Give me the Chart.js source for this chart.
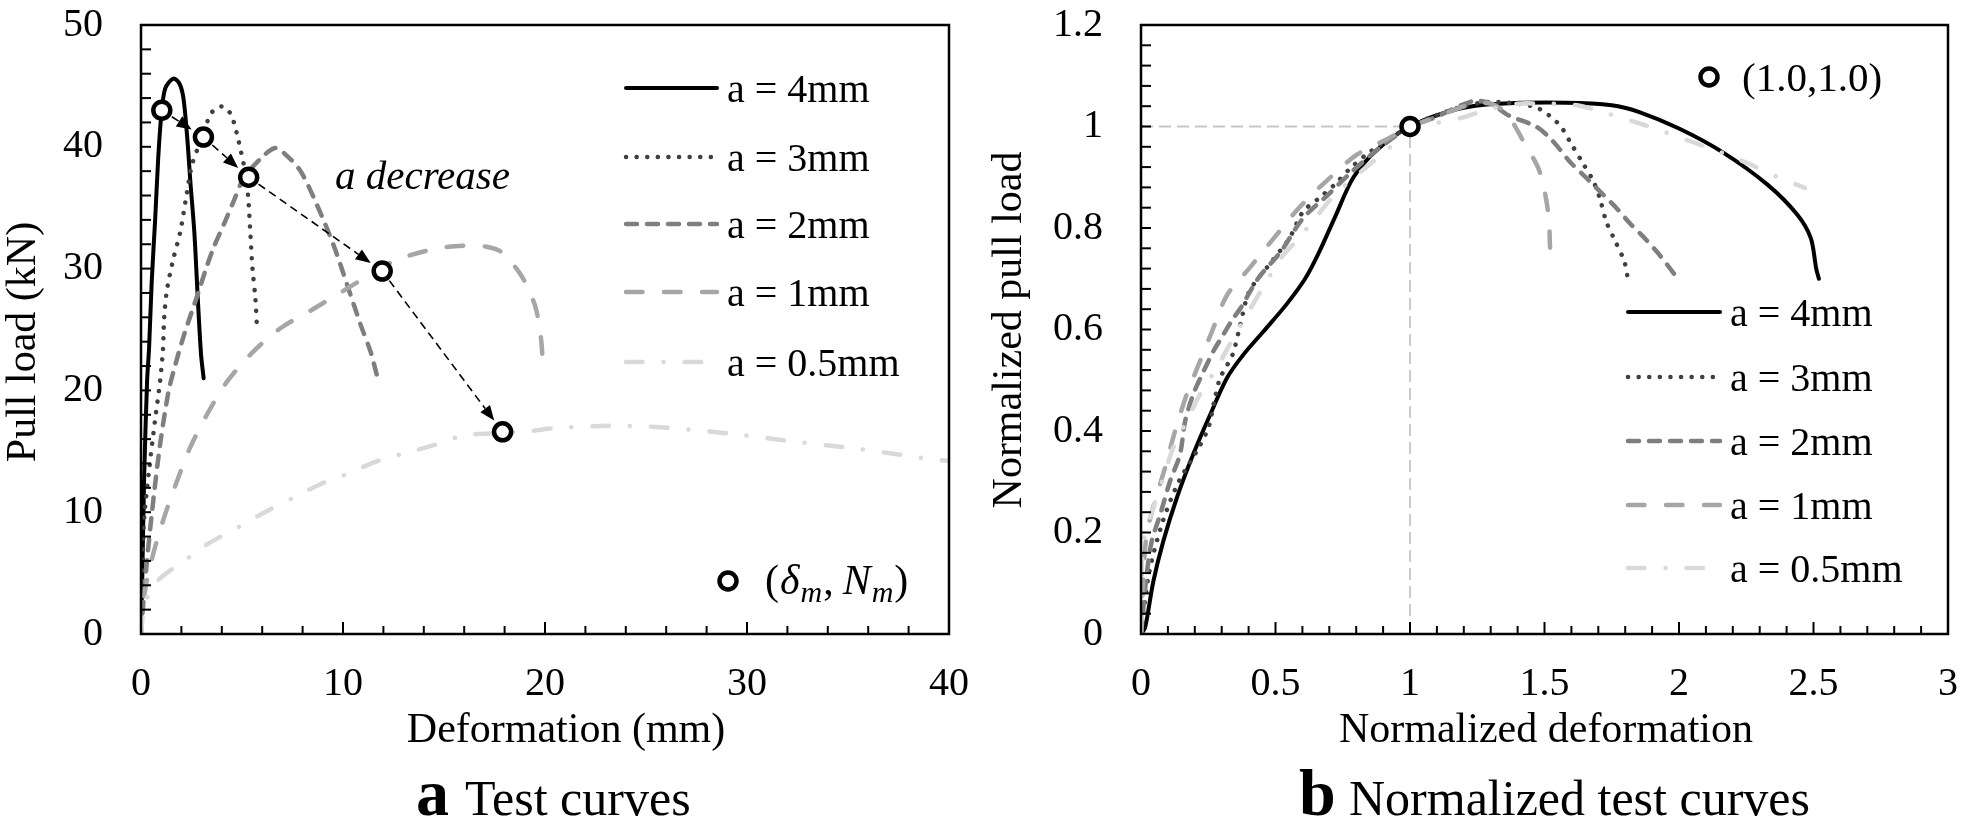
<!DOCTYPE html>
<html><head><meta charset="utf-8">
<script src="https://cdn.jsdelivr.net/npm/chart.js@4.4.1/dist/chart.umd.min.js"></script>
<style>
html,body{margin:0;padding:0;background:#fff;width:1961px;height:832px;overflow:hidden}
#wrapA{position:absolute;left:0;top:0;width:980px;height:832px}
#wrapB{position:absolute;left:980px;top:0;width:981px;height:832px}
</style></head><body>
<div id="wrapA"><canvas id="cA" width="980" height="832"></canvas></div>
<div id="wrapB"><canvas id="cB" width="981" height="832"></canvas></div>
<script>
// ---------- DATA ----------
const seriesLabels = ['a = 4mm', 'a = 3mm', 'a = 2mm', 'a = 1mm', 'a = 0.5mm'];
const xTicksA = ['0', '10', '20', '30', '40'];
const yTicksA = ['0', '10', '20', '30', '40', '50'];
const xTicksB = ['0', '0.5', '1', '1.5', '2', '2.5', '3'];
const yTicksB = ['0', '0.2', '0.4', '0.6', '0.8', '1', '1.2'];

// (a) Test curves: [deformation mm, pull load kN]
const testA4 = [[0,0],[0.06,4.3],[0.15,12.5],[0.3,20.7],[0.4,23.5],[0.53,28.9],[0.7,34],[0.85,39],[1.0,42.5],[1.2,44.8],[1.6,45.6],[1.9,45.2],[2.1,44],[2.3,40.5],[2.45,37],[2.64,33],[2.81,27.6],[2.97,23],[3.1,21]];
const testA3 = [[0,0],[0.08,5],[0.15,9.3],[0.41,13.6],[0.69,17.5],[0.94,20.7],[1.08,23.2],[1.15,26],[1.28,28.2],[1.6,30.8],[1.94,33],[2.25,36],[2.52,38.5],[2.93,40.4],[3.42,42.6],[3.75,43.2],[4.09,43.3],[4.4,42.8],[4.6,42],[4.8,40.7],[4.95,39.6],[5.15,38],[5.3,36],[5.41,33],[5.52,30],[5.66,27.6],[5.74,25.2]];
const testA2 = [[0,0],[0.2,4.3],[0.53,9.8],[0.94,15.5],[1.36,19.9],[1.6,21.5],[2.1,24.4],[2.85,28.1],[3.18,29.8],[3.59,31.7],[4.17,33.9],[4.58,35.5],[5.08,37.4],[5.9,39],[6.65,39.9],[7.2,39.3],[7.9,38],[8.72,35.2],[9.54,31.9],[10.2,28.7],[10.87,25.4],[11.36,23.2],[11.7,21.1]];
const testA1 = [[0,0],[0.03,1.6],[0.28,4.3],[0.69,7.1],[1.19,9.8],[1.77,12.5],[2.43,15.3],[3.26,18],[4.25,20.7],[5.57,23.2],[6.9,25.1],[8.55,26.7],[10.54,28.7],[12.5,30.6],[14.5,31.6],[16.16,31.9],[17.1,31.8],[17.8,31.4],[18.8,29.5],[19.5,27],[19.8,24.3],[19.9,21.9]];
const testA05 = [[0,0],[0.2,2.5],[0.78,4.3],[2.35,6.25],[3.26,7.35],[4.91,8.85],[6.24,10.1],[7.56,11.2],[8.88,12.3],[10.29,13.2],[11.7,14.2],[13.19,14.9],[14.5,15.5],[16.0,16.3],[17.8,16.5],[18.97,16.6],[20.5,16.9],[23.4,17.1],[26.3,16.9],[29.45,16.4],[32.3,15.8],[35.5,15.2],[38.5,14.5],[40,14.2]];
const peakPointsA = [[1.03,43.0],[3.09,40.8],[5.33,37.5],[11.94,29.8],[17.9,16.6]];

// (b) Normalized test curves: [normalized deformation, normalized pull load]
const normB4 = [[0,0],[0.015,0.012],[0.046,0.104],[0.083,0.183],[0.133,0.268],[0.194,0.354],[0.257,0.432],[0.319,0.504],[0.38,0.55],[0.455,0.596],[0.54,0.649],[0.61,0.70],[0.66,0.75],[0.72,0.82],[0.79,0.90],[0.88,0.955],[1.0,1.0],[1.18,1.035],[1.33,1.045],[1.58,1.047],[1.75,1.042],[1.85,1.029],[2.0,0.996],[2.16,0.95],[2.33,0.885],[2.44,0.826],[2.49,0.78],[2.51,0.72],[2.52,0.70]];
const normB3 = [[0,0],[0.03,0.12],[0.08,0.22],[0.14,0.3],[0.207,0.36],[0.25,0.406],[0.275,0.465],[0.294,0.504],[0.34,0.55],[0.365,0.60],[0.403,0.675],[0.486,0.734],[0.552,0.78],[0.602,0.832],[0.66,0.858],[0.719,0.885],[0.777,0.917],[0.851,0.95],[1.0,1.0],[1.167,1.035],[1.283,1.048],[1.40,1.045],[1.48,1.035],[1.556,1.003],[1.598,0.967],[1.64,0.93],[1.68,0.894],[1.706,0.858],[1.73,0.812],[1.764,0.773],[1.797,0.734],[1.81,0.70]];
const normB2 = [[0,0],[0.009,0.052],[0.021,0.117],[0.04,0.183],[0.071,0.235],[0.108,0.301],[0.145,0.354],[0.164,0.419],[0.194,0.472],[0.232,0.517],[0.269,0.557],[0.306,0.59],[0.343,0.622],[0.37,0.642],[0.436,0.701],[0.519,0.753],[0.602,0.819],[0.694,0.865],[0.784,0.911],[0.885,0.957],[1.0,1.0],[1.084,1.016],[1.233,1.05],[1.3,1.045],[1.366,1.022],[1.471,0.999],[1.533,0.97],[1.595,0.93],[1.657,0.898],[1.706,0.872],[1.768,0.839],[1.818,0.809],[1.867,0.783],[1.923,0.75],[1.99,0.704]];
const normB1 = [[0,0],[0.002,0.04],[0.009,0.117],[0.021,0.196],[0.052,0.262],[0.089,0.327],[0.126,0.399],[0.17,0.472],[0.219,0.537],[0.269,0.603],[0.32,0.668],[0.403,0.721],[0.494,0.78],[0.586,0.839],[0.686,0.891],[0.801,0.944],[0.918,0.976],[1.0,1.0],[1.08,1.015],[1.216,1.042],[1.3,1.045],[1.36,1.025],[1.416,0.976],[1.482,0.911],[1.515,0.826],[1.52,0.77],[1.523,0.734]];
const normB05 = [[0,0],[0.004,0.144],[0.015,0.196],[0.046,0.249],[0.083,0.308],[0.12,0.367],[0.17,0.419],[0.219,0.472],[0.281,0.524],[0.343,0.583],[0.45,0.68],[0.52,0.74],[0.586,0.78],[0.652,0.822],[0.719,0.865],[0.818,0.911],[0.934,0.963],[1.0,1.0],[1.084,1.006],[1.183,1.016],[1.3,1.035],[1.4,1.045],[1.483,1.045],[1.62,1.042],[1.731,1.026],[1.836,1.009],[1.942,0.99],[2.047,0.97],[2.152,0.95],[2.258,0.927],[2.363,0.901],[2.468,0.879]];
const normPointB = [[1, 1]];
const refLineH = [[0, 1], [1, 1]];
const refLineV = [[1, 0], [1, 1]];

// ---------- STYLE ----------
const FAM = '"Liberation Serif", "Times New Roman", serif';
const seriesColors = ['#000000', '#404040', '#7f7f7f', '#a6a6a6', '#d9d9d9'];
const seriesWidths = [4, 4.5, 4.5, 4.5, 4.5];
const seriesDashes = [[], [0.1, 10.5], [11, 10], [16.5, 21.5], [16.5, 21, 0.1, 21]];

Chart.defaults.font.family = FAM;
Chart.defaults.color = '#000';

const toXY = arr => arr.map(p => ({x: p[0], y: p[1]}));

function curveSets(curves) {
  return curves.map((c, i) => ({
    label: seriesLabels[i], data: toXY(c),
    borderColor: seriesColors[i], borderWidth: seriesWidths[i], borderDash: seriesDashes[i],
    borderCapStyle: 'round', borderJoinStyle: 'round', tension: 0.3,
    pointRadius: 0, fill: false, order: 5 - i
  }));
}
function markerSet(pts) {
  return { label: 'marker', data: toXY(pts), showLine: false, pointRadius: 8.5, pointBorderWidth: 4.5,
    pointBackgroundColor: '#fff', pointBorderColor: '#000', borderColor: '#000', order: 0, clip: false };
}
function refSet(pts) {
  return { label: 'ref', data: toXY(pts), borderColor: '#c6c6c6', borderWidth: 1.8, borderDash: [12, 6],
    pointRadius: 0, tension: 0, fill: false, order: 10 };
}

function drawLegend(ctx, x0, x1, xt, ys) {
  ctx.save();
  ctx.font = '40px ' + FAM; ctx.fillStyle = '#000'; ctx.textBaseline = 'alphabetic'; ctx.textAlign = 'left';
  for (let i = 0; i < seriesLabels.length; i++) {
    ctx.strokeStyle = seriesColors[i]; ctx.lineWidth = seriesWidths[i]; ctx.lineCap = 'round';
    ctx.setLineDash(seriesDashes[i]);
    ctx.beginPath(); ctx.moveTo(x0, ys[i]); ctx.lineTo(x1, ys[i]); ctx.stroke();
    ctx.setLineDash([]);
    ctx.fillText(seriesLabels[i], xt, ys[i] + 13.5);
  }
  ctx.restore();
}
function drawRing(ctx, x, y) {
  ctx.save(); ctx.beginPath(); ctx.arc(x, y, 8.5, 0, Math.PI * 2);
  ctx.fillStyle = '#fff'; ctx.fill(); ctx.lineWidth = 4.5; ctx.strokeStyle = '#000'; ctx.stroke(); ctx.restore();
}
function drawRotated(ctx, text, cx, cy, font) {
  ctx.save(); ctx.translate(cx, cy); ctx.rotate(-Math.PI / 2);
  ctx.font = font; ctx.textAlign = 'center'; ctx.textBaseline = 'middle'; ctx.fillStyle = '#000';
  ctx.fillText(text, 0, 0); ctx.restore();
}
function drawCaption(ctx, letter, text, x, xt, base) {
  ctx.save(); ctx.fillStyle = '#000'; ctx.textBaseline = 'alphabetic'; ctx.textAlign = 'left';
  ctx.font = 'bold 66px ' + FAM; ctx.fillText(letter, x, base);
  ctx.font = '50px ' + FAM; ctx.fillText(text, xt, base);
  ctx.restore();
}

function makeDecor(spec) {
  return {
    id: 'decor',
    afterDatasetsDraw(chart) {
      const ctx = chart.ctx, a = chart.chartArea, xs = chart.scales.x, ys = chart.scales.y;
      ctx.save();
      if (spec.arrows) {
        const pts = spec.arrows.map(p => [xs.getPixelForValue(p[0]), ys.getPixelForValue(p[1])]);
        ctx.strokeStyle = '#000'; ctx.fillStyle = '#000'; ctx.lineWidth = 1.6;
        for (let i = 0; i < pts.length - 1; i++) {
          const [x0, y0] = pts[i], [x1, y1] = pts[i + 1];
          const dx = x1 - x0, dy = y1 - y0, L = Math.hypot(dx, dy), ux = dx / L, uy = dy / L;
          const sx = x0 + ux * 12, sy = y0 + uy * 12, tx = x1 - ux * 14, ty = y1 - uy * 14;
          const bx = tx - ux * 15, by = ty - uy * 15, hw = 6;
          ctx.setLineDash([8, 5]); ctx.beginPath(); ctx.moveTo(sx, sy); ctx.lineTo(bx, by); ctx.stroke();
          ctx.setLineDash([]); ctx.beginPath(); ctx.moveTo(tx, ty);
          ctx.lineTo(bx - uy * hw, by + ux * hw); ctx.lineTo(bx + uy * hw, by - ux * hw); ctx.closePath(); ctx.fill();
        }
      }
      ctx.strokeStyle = '#000'; ctx.lineWidth = 2; ctx.setLineDash([]);
      const nx = Math.round((xs.max - xs.min) / spec.xMinor);
      for (let k = 0; k <= nx; k++) {
        const px = xs.getPixelForValue(xs.min + k * spec.xMinor);
        const len = (k % 5 === 0) ? 12 : 8;
        ctx.beginPath(); ctx.moveTo(px, a.bottom); ctx.lineTo(px, a.bottom - len); ctx.stroke();
      }
      const ny = Math.round((ys.max - ys.min) / spec.yMinor);
      for (let k = 0; k <= ny; k++) {
        const py = ys.getPixelForValue(ys.min + k * spec.yMinor);
        ctx.beginPath(); ctx.moveTo(a.left, py); ctx.lineTo(a.left + 10, py); ctx.stroke();
      }
      ctx.lineWidth = 2.5;
      ctx.strokeRect(a.left, a.top, a.right - a.left, a.bottom - a.top);
      ctx.restore();
    },
    afterDraw(chart) {
      spec.extra(chart.ctx, chart);
    }
  };
}

const hiddenGrid = tl => ({ display: true, drawOnChartArea: false, drawTicks: true, tickLength: tl,
  color: 'rgba(0,0,0,0)', lineWidth: 0 });

function makeChart(id, datasets, xr, yr, xLabels, yLabels, yWidth, padRight, decor) {
  return new Chart(document.getElementById(id), {
    type: 'line',
    data: { datasets },
    options: {
      responsive: false, animation: false, events: [],
      layout: { padding: { left: 0, top: 23, right: padRight, bottom: 98 } },
      plugins: { legend: { display: false }, tooltip: { enabled: false } },
      scales: {
        x: { type: 'linear', min: xr[0], max: xr[1],
          ticks: { stepSize: xr[2], autoSkip: false, maxRotation: 0, padding: 1,
            font: { size: 40, family: FAM }, color: '#000', callback: (v, i) => xLabels[i] },
          grid: hiddenGrid(25), border: { display: false },
          afterFit: s => { s.height = 100; } },
        y: { type: 'linear', min: yr[0], max: yr[1],
          ticks: { stepSize: yr[2], autoSkip: false, padding: 1,
            font: { size: 40, family: FAM }, color: '#000', callback: (v, i) => yLabels[i] },
          grid: hiddenGrid(37), border: { display: false },
          afterFit: s => { s.width = yWidth; } }
      }
    },
    plugins: [decor]
  });
}

// ---------- Chart (a) ----------
makeChart('cA',
  [...curveSets([testA4, testA3, testA2, testA1, testA05]), markerSet(peakPointsA)],
  [0, 40, 10], [0, 50, 10], xTicksA, yTicksA, 141, 31,
  makeDecor({ xMinor: 2, yMinor: 2, arrows: peakPointsA, extra(ctx) {
    drawLegend(ctx, 626, 717, 727, [88, 157, 224, 292, 362]);
    drawRing(ctx, 728, 581);
    ctx.save(); ctx.fillStyle = '#000'; ctx.textBaseline = 'alphabetic'; ctx.textAlign = 'left';
    const parts = [['(', '42px ', 0, 1], ['δ', 'italic 42px ', 0, 1], ['m', 'italic 30px ', 8, 1], [',', '42px ', 0, 9],
                   ['N', 'italic 42px ', 0, 1], ['m', 'italic 30px ', 8, 1], [')', '42px ', 0, 0]];
    let x = 765; const base = 594;
    for (const p of parts) { ctx.font = p[1] + FAM; ctx.fillText(p[0], x, base + p[2]); x += ctx.measureText(p[0]).width + p[3]; }
    ctx.font = 'italic 41px ' + FAM; ctx.fillText('a decrease', 335, 189);
    ctx.font = '42px ' + FAM; ctx.textAlign = 'center'; ctx.fillText('Deformation (mm)', 566, 742);
    ctx.restore();
    drawRotated(ctx, 'Pull load (kN)', 24, 342, '42px ' + FAM);
    drawCaption(ctx, 'a', 'Test curves', 416, 465, 815);
  } }));

// ---------- Chart (b) ----------
makeChart('cB',
  [...curveSets([normB4, normB3, normB2, normB1, normB05]), markerSet(normPointB), refSet(refLineH), refSet(refLineV)],
  [0, 3, 0.5], [0, 1.2, 0.2], xTicksB, yTicksB, 161, 13,
  makeDecor({ xMinor: 0.1, yMinor: 0.04, extra(ctx) {
    drawLegend(ctx, 648, 740, 750, [312, 377, 441, 505, 568]);
    drawRing(ctx, 729, 77);
    ctx.save(); ctx.fillStyle = '#000'; ctx.textBaseline = 'alphabetic'; ctx.textAlign = 'left';
    ctx.font = '41px ' + FAM; ctx.fillText('(1.0,1.0)', 762, 90.5);
    ctx.font = '42px ' + FAM; ctx.textAlign = 'center'; ctx.fillText('Normalized deformation', 566, 742);
    ctx.restore();
    drawRotated(ctx, 'Normalized pull load', 30, 330, '42px ' + FAM);
    drawCaption(ctx, 'b', 'Normalized test curves', 319, 369, 815);
  } }));
</script>
</body></html>
